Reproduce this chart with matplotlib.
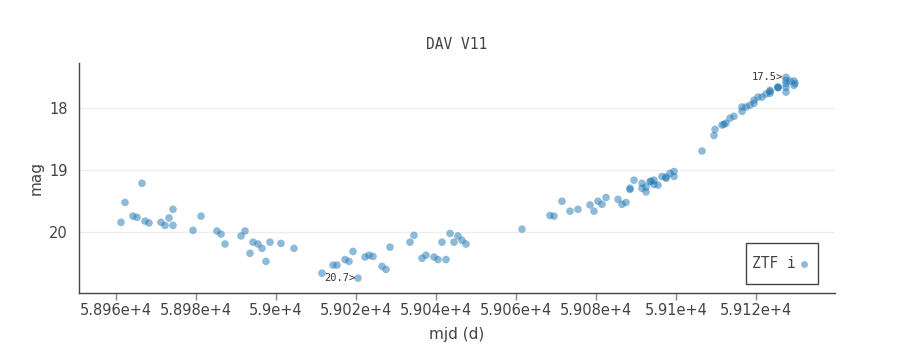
import matplotlib
matplotlib.use("Agg")
import matplotlib.pyplot as plt
from matplotlib.patches import Rectangle

mjd = [58961.25, 58962.25, 58966.5, 58964.25, 58965.25, 58967.25, 58968.25, 58971.25, 58972.25,
       58973.25, 58974.25, 58974.25, 58979.25, 58981.25, 58985.25, 58986.25, 58987.25, 58991.25,
       58992.25, 58993.5, 58994.25, 58995.5, 58996.5, 58997.5, 58998.5, 59001.25, 59004.5,
       59011.5, 59014.25, 59015.25, 59017.25, 59018.25, 59019.25, 59020.5, 59022.25, 59023.25,
       59024.25, 59026.5, 59027.5, 59028.5,
       59033.5, 59034.5, 59036.5, 59037.5, 59039.5, 59040.5, 59042.5, 59041.5, 59043.5, 59044.5,
       59045.5, 59046.5, 59047.5,
       59061.5, 59068.5, 59069.5, 59071.5, 59073.5, 59075.5, 59078.5, 59079.5, 59080.5, 59081.5,
       59082.5, 59085.5, 59086.5, 59087.5, 59088.5, 59088.5, 59089.5, 59091.5, 59091.5, 59092.5,
       59092.5, 59093.5, 59093.75, 59094.5, 59094.5, 59095.5, 59096.5, 59097.5, 59097.5, 59098.5,
       59099.5, 59099.5,
       59106.5, 59109.5, 59109.75, 59111.5, 59112.0, 59112.5, 59113.5, 59114.5, 59116.5, 59116.5,
       59117.5, 59118.5, 59119.5, 59119.5, 59120.5, 59121.5, 59122.5, 59123.5, 59123.5, 59123.5,
       59125.5, 59125.5, 59125.5, 59127.5, 59127.5, 59127.5, 59127.5, 59127.5, 59128.5, 59129.5,
       59129.5, 59129.75]
mag = [19.84, 19.52, 19.21, 19.74, 19.76, 19.82, 19.85, 19.84, 19.89,
       19.77, 19.63, 19.89, 19.97, 19.74, 19.98, 20.03, 20.19, 20.06,
       19.98, 20.34, 20.16, 20.19, 20.26, 20.47, 20.16, 20.18, 20.26,
       20.66, 20.53, 20.53, 20.44, 20.47, 20.31, 20.74, 20.40, 20.37,
       20.39, 20.55, 20.60, 20.24,
       20.16, 20.05, 20.42, 20.37, 20.40, 20.44, 20.44, 20.16, 20.02, 20.16,
       20.06, 20.13, 20.19,
       19.95, 19.73, 19.74, 19.50, 19.66, 19.63, 19.56, 19.66, 19.50, 19.55,
       19.44, 19.47, 19.55, 19.52, 19.31, 19.29, 19.16, 19.21, 19.29, 19.27,
       19.35, 19.18, 19.18, 19.16, 19.23, 19.24, 19.10, 19.11, 19.13, 19.05,
       19.02, 19.10,
       18.69, 18.44, 18.34, 18.27, 18.26, 18.24, 18.16, 18.13, 17.98, 18.05,
       17.98, 17.95, 17.92, 17.87, 17.82, 17.82, 17.77, 17.73, 17.76, 17.71,
       17.66, 17.67, 17.66, 17.50, 17.55, 17.60, 17.66, 17.74, 17.56, 17.56,
       17.63, 17.60]

xticks = [58960, 58980, 59000, 59020, 59040, 59060, 59080, 59100, 59120]
xtick_labels = ["5.896e+4", "5.898e+4", "5.9e+4", "5.902e+4", "5.904e+4",
                "5.906e+4", "5.908e+4", "5.91e+4", "5.912e+4"]
yticks = [18, 19, 20]
ytick_labels = ["18", "19", "20"]

title = "DAV V11"
xlabel = "mjd (d)"
ylabel = "mag"
legend_label = "ZTF i"

mono = ["DejaVu Sans Mono"]
sans = ["DejaVu Sans"]
color = "#1f77b4"
txtc = "#444444"

fig = plt.figure(figsize=(9.16, 3.53), dpi=100)
ax = fig.add_axes([79/916, 1 - 293/353, (835-79)/916, (293-63)/353])

ax.scatter(mjd, mag, s=30, color=color, alpha=0.5, edgecolors="none", zorder=3)

ax.set_xlim(58950.75, 59139.75)
ax.set_ylim(20.98, 17.27)

ax.set_xticks(xticks)
ax.set_xticklabels(xtick_labels, fontfamily=sans, fontsize=10.5, color=txtc)
ax.set_yticks(yticks)
ax.set_yticklabels(ytick_labels, fontfamily=sans, fontsize=10.5, color=txtc)
ax.tick_params(axis="x", length=5, width=1, color="#888888", pad=2.5)
ax.tick_params(axis="y", length=0, pad=8)

ax.grid(axis="y", color="#eeeeee", linewidth=1, zorder=0)
ax.grid(axis="x", visible=False)
for s in ["top", "right"]:
    ax.spines[s].set_visible(False)
for s in ["left", "bottom"]:
    ax.spines[s].set_color("#444444")
    ax.spines[s].set_linewidth(1)

ax.set_title(title, fontfamily=mono, fontsize=10.5, color=txtc, pad=10)
ax.set_xlabel(xlabel, fontfamily=sans, fontsize=11, color=txtc, labelpad=6)
ax.set_ylabel(ylabel, fontfamily=sans, fontsize=11, color=txtc, labelpad=4)

# annotations at brightest/faintest points
i_min = mag.index(min(mag))
i_max = mag.index(max(mag))
for i in (i_min, i_max):
    ax.annotate(f"{mag[i]:.1f}>", (mjd[i], mag[i]), xytext=(-2, 0),
                textcoords="offset points", ha="right", va="center",
                fontfamily=mono, fontsize=7.5, color="#333333")

# legend box (drawn in axes coordinates)
def px_x(x):
    return (x - 79) / 756.0

def px_y(y):
    return (293 - y) / 230.0

ax.add_patch(Rectangle((px_x(746), px_y(284)), px_x(818) - px_x(746), px_y(243) - px_y(284),
                       transform=ax.transAxes, facecolor="white", edgecolor="#444444",
                       linewidth=1, zorder=5))
ax.text(px_x(752), px_y(263.5), legend_label, transform=ax.transAxes, ha="left",
        va="center", fontfamily=mono, fontsize=10.5, color=txtc, zorder=6)
ax.plot([px_x(804)], [px_y(263.5)], transform=ax.transAxes, marker="o", linestyle="none",
        color=color, alpha=0.5, markeredgewidth=0, markersize=5, zorder=6, clip_on=False)

fig.savefig("out.png", dpi=100)
